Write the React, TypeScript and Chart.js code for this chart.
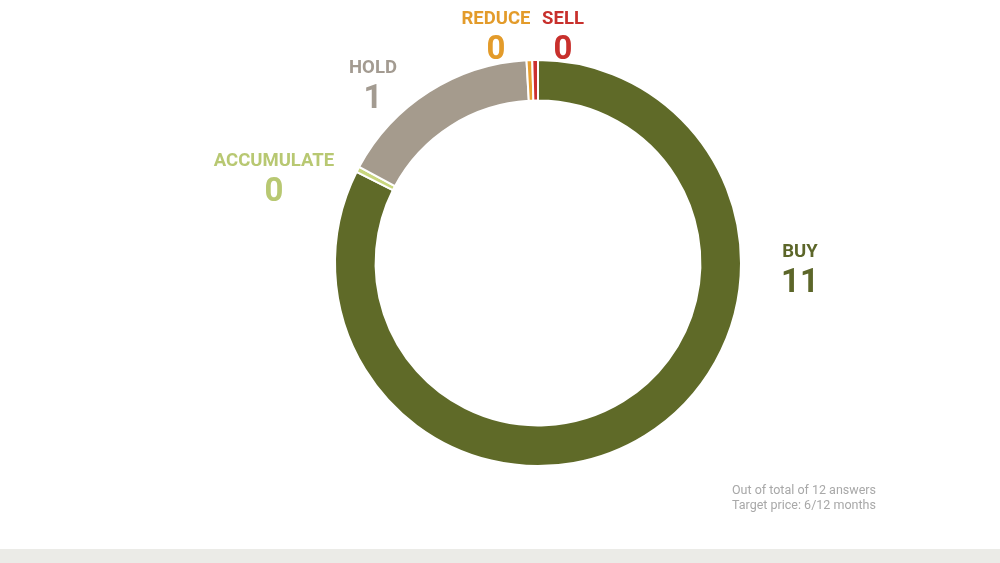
import React, { useEffect, useRef } from "react";
import { Chart, registerables } from "chart.js";

Chart.register(...registerables);

const categories = ["BUY", "ACCUMULATE", "HOLD", "REDUCE", "SELL"];
const answerCounts = [11, 0, 1, 0, 0];
// arc shares (percent of the ring) as drawn in the reference
const arcShares = [82.4, 0.45, 16.25, 0.45, 0.45];
const sliceColors = ["#5f6a28", "#c9d67e", "#a59b8d", "#e8a030", "#cc3030"];
const labelColors = ["#5c6629", "#b8c872", "#a39b91", "#e39b2a", "#c8302c"];
const footnoteLines = ["Out of total of 12 answers", "Target price: 6/12 months"];

const labelPos: Record<string, { x: number; y: number }> = {
  BUY: { x: 800, y: 240 },
  ACCUMULATE: { x: 274, y: 149 },
  HOLD: { x: 373, y: 56 },
  REDUCE: { x: 496, y: 7 },
  SELL: { x: 563, y: 7 },
};

export default function App() {
  const ref = useRef<HTMLCanvasElement | null>(null);

  useEffect(() => {
    document.body.style.margin = "0";
    if (!ref.current) return;
    const chart = new Chart(ref.current, {
      type: "doughnut",
      data: {
        labels: categories,
        datasets: [
          {
            data: arcShares,
            backgroundColor: sliceColors,
            borderColor: "#ffffff",
            borderWidth: 2,
            hoverOffset: 0,
          },
        ],
      },
      options: {
        animation: false,
        responsive: false,
        maintainAspectRatio: false,
        cutout: "80%",
        rotation: 0,
        layout: { padding: { left: 334, right: 258, top: 59, bottom: 82 } },
        plugins: {
          legend: { display: false },
          tooltip: { enabled: false },
        },
      },
    });
    return () => chart.destroy();
  }, []);

  return (
    <div
      style={{
        position: "fixed",
        left: 0,
        top: 0,
        width: 1000,
        height: 563,
        background: "#ffffff",
        fontFamily: "Roboto, sans-serif",
        overflow: "hidden",
      }}
    >
      <canvas ref={ref} width={1000} height={549} style={{ position: "absolute", left: 0, top: 0, width: 1000, height: 549 }} />
      {categories.map((c, i) => (
        <div
          key={c}
          style={{
            position: "absolute",
            left: labelPos[c].x - 100,
            top: labelPos[c].y,
            width: 200,
            textAlign: "center",
            color: labelColors[i],
            fontWeight: 700,
          }}
        >
          <div style={{ fontSize: 18.5, lineHeight: "22px" }}>{c}</div>
          <div style={{ fontSize: 33, lineHeight: "38px" }}>{answerCounts[i]}</div>
        </div>
      ))}
      <div
        style={{
          position: "absolute",
          left: 732,
          top: 482,
          color: "#a8a8a8",
          fontSize: 12.5,
          lineHeight: "15px",
        }}
      >
        {footnoteLines.map((l) => (
          <div key={l}>{l}</div>
        ))}
      </div>
      <div style={{ position: "absolute", left: 0, top: 549, width: 1000, height: 14, background: "#ebebe7" }} />
    </div>
  );
}
